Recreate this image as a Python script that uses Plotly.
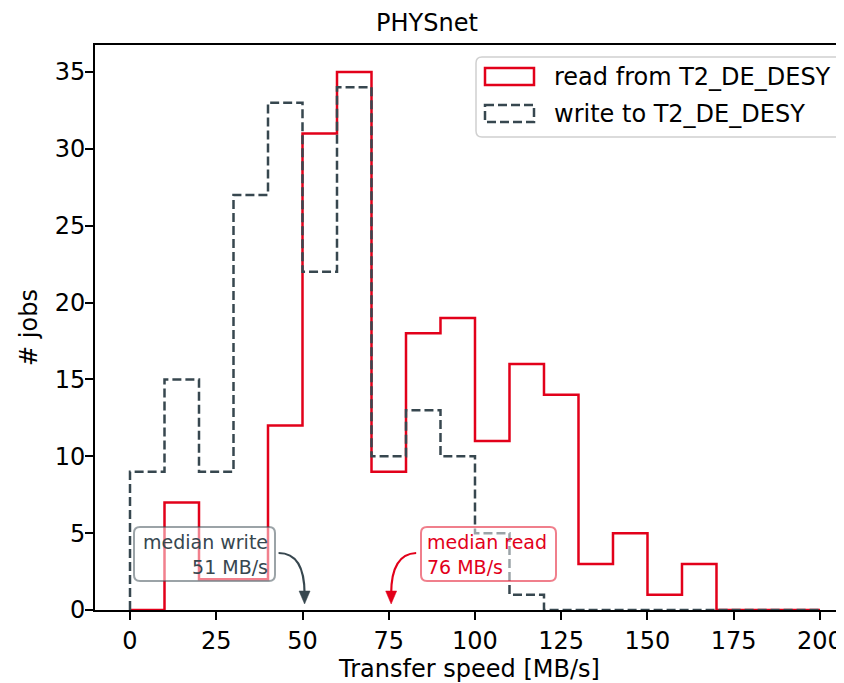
import numpy as np
import plotly.graph_objects as go

# ---- data ----
bin_edges = list(range(0, 210, 10))
read_counts = [0, 7, 2, 2, 12, 31, 35, 9, 18, 19, 11, 16, 14, 3, 5, 1, 3, 0, 0, 0]
write_counts = [9, 15, 9, 27, 33, 22, 34, 10, 13, 10, 5, 1, 0, 0, 0, 0, 0, 0, 0, 0]
median_read = 75.7
median_write = 50.6
x_ticks = [0, 25, 50, 75, 100, 125, 150, 175, 200]
y_ticks = [0, 5, 10, 15, 20, 25, 30, 35]
read_label = "read from T2_DE_DESY"
write_label = "write to T2_DE_DESY"

RED = "#E2001A"
GREY = "#37474F"
FONT = "DejaVu Sans"
FS = 24

# the page adds an 8px body margin; the figure is sized so that the page matches 844x683
OFF = 8
PAGE_W, PAGE_H = 844, 683
W, H = PAGE_W - OFF, PAGE_H - OFF
# plot area in page pixels
L, R, T, B = 95, 844, 45, 610


def px_x(p):
    return (p - L) / (R - L)


def px_y(p):
    return (B - p) / (B - T)


def step_path(edges, counts):
    e = np.asarray(edges, dtype=float)
    c = np.asarray(counts, dtype=float)
    xs = np.repeat(e, 2)
    ys = np.concatenate([[0.0], np.repeat(c, 2), [0.0]])
    return xs, ys


def rrect(x0, y0, x1, y1, r):
    pts = [
        ("M", [(x0 + r, y0)]), ("L", [(x1 - r, y0)]), ("Q", [(x1, y0), (x1, y0 + r)]),
        ("L", [(x1, y1 - r)]), ("Q", [(x1, y1), (x1 - r, y1)]), ("L", [(x0 + r, y1)]),
        ("Q", [(x0, y1), (x0, y1 - r)]), ("L", [(x0, y0 + r)]), ("Q", [(x0, y0), (x0 + r, y0)]),
    ]
    s = ""
    for cmd, ps in pts:
        s += cmd + " " + " ".join(f"{px_x(a):.5f},{px_y(b):.5f}" for a, b in ps) + " "
    return s + "Z"


fig = go.Figure()

rx, ry = step_path(bin_edges, read_counts)
wx, wy = step_path(bin_edges, write_counts)

fig.add_trace(go.Scatter(x=rx, y=ry, mode="lines", name=read_label,
                         line=dict(color=RED, width=2.5), showlegend=False))
fig.add_trace(go.Scatter(x=wx, y=wy, mode="lines", name=write_label,
                         line=dict(color=GREY, width=2.5, dash="9px,4px"), showlegend=False))

shapes = []
annotations = []

# median boxes
shapes.append(dict(type="path", xref="paper", yref="paper", layer="above",
                   path=rrect(134, 527, 275, 581, 6),
                   line=dict(color="rgba(55,71,79,0.5)", width=2),
                   fillcolor="rgba(255,255,255,0.5)"))
shapes.append(dict(type="path", xref="paper", yref="paper", layer="above",
                   path=rrect(421, 527, 556, 581, 6),
                   line=dict(color="rgba(226,0,26,0.5)", width=2),
                   fillcolor="rgba(255,255,255,0.5)"))

annotations.append(dict(xref="paper", yref="paper", x=px_x(270), y=px_y(554),
                        xanchor="right", yanchor="middle", align="right", showarrow=False,
                        text=f"median write<br>{round(median_write)} MB/s",
                        font=dict(family=FONT, size=19, color=GREY)))
annotations.append(dict(xref="paper", yref="paper", x=px_x(425), y=px_y(554),
                        xanchor="left", yanchor="middle", align="left", showarrow=False,
                        text=f"median read<br>{round(median_read)} MB/s",
                        font=dict(family=FONT, size=19, color=RED)))

# curved arrows (pixel offsets relative to the median position on the axis)
for med, col, path in [
    (median_write, GREY, "M -26,57 Q 0,57 0,16"),
    (median_read, RED, "M 25,57 Q 0,56 0,16"),
]:
    shapes.append(dict(type="path", xref="x", yref="y", xsizemode="pixel", ysizemode="pixel",
                       xanchor=med, yanchor=0, path=path, layer="above",
                       line=dict(color=col, width=2.2)))
    shapes.append(dict(type="path", xref="x", yref="y", xsizemode="pixel", ysizemode="pixel",
                       xanchor=med, yanchor=0, path="M 0,6 L -5.5,19 L 5.5,19 Z", layer="above",
                       line=dict(color=col, width=0.5), fillcolor=col))

# legend (drawn)
shapes.append(dict(type="path", xref="paper", yref="paper", layer="above",
                   path=rrect(476, 57, 842, 137, 6),
                   line=dict(color="#D0D0D0", width=1.5),
                   fillcolor="rgba(255,255,255,0.8)"))
shapes.append(dict(type="rect", xref="paper", yref="paper", layer="above",
                   x0=px_x(485), x1=px_x(534), y0=px_y(68), y1=px_y(85),
                   line=dict(color=RED, width=2.5), fillcolor="rgba(0,0,0,0)"))
shapes.append(dict(type="rect", xref="paper", yref="paper", layer="above",
                   x0=px_x(485), x1=px_x(534), y0=px_y(105), y1=px_y(122),
                   line=dict(color=GREY, width=2.5, dash="9px,4px"), fillcolor="rgba(0,0,0,0)"))
annotations.append(dict(xref="paper", yref="paper", x=px_x(552), y=px_y(77),
                        xanchor="left", yanchor="middle", showarrow=False, text=read_label,
                        font=dict(family=FONT, size=FS, color="black")))
annotations.append(dict(xref="paper", yref="paper", x=px_x(552), y=px_y(114),
                        xanchor="left", yanchor="middle", showarrow=False, text=write_label,
                        font=dict(family=FONT, size=FS, color="black")))

axis_common = dict(showgrid=False, zeroline=False, showline=True, linecolor="black",
                   linewidth=1.8, ticks="outside", ticklen=8, tickwidth=1.8,
                   tickcolor="black", automargin=False,
                   tickfont=dict(family=FONT, size=FS, color="black"))

fig.update_layout(
    width=W, height=H,
    margin=dict(l=L - OFF, r=PAGE_W - R, t=T - OFF, b=PAGE_H - B),
    paper_bgcolor="white", plot_bgcolor="white",
    font=dict(family=FONT, size=FS, color="black"),
    title=dict(text="PHYSnet", x=(427 - OFF) / W, xanchor="center",
               y=1 - (23 - OFF) / H, yanchor="middle", yref="container",
               font=dict(family=FONT, size=FS, color="black")),
    xaxis=dict(range=[-10.145, 206.96], tickvals=x_ticks, mirror=True,
               title=dict(text="Transfer speed [MB/s]", standoff=10,
                          font=dict(family=FONT, size=FS, color="black")),
               **axis_common),
    yaxis=dict(range=[0, 36.75], tickvals=y_ticks, mirror=False, ticklabelstandoff=-5,
               title=dict(text="# jobs", standoff=10,
                          font=dict(family=FONT, size=FS, color="black")),
               **axis_common),
    shapes=shapes, annotations=annotations, showlegend=False,
)

fig.write_html("out.html")
